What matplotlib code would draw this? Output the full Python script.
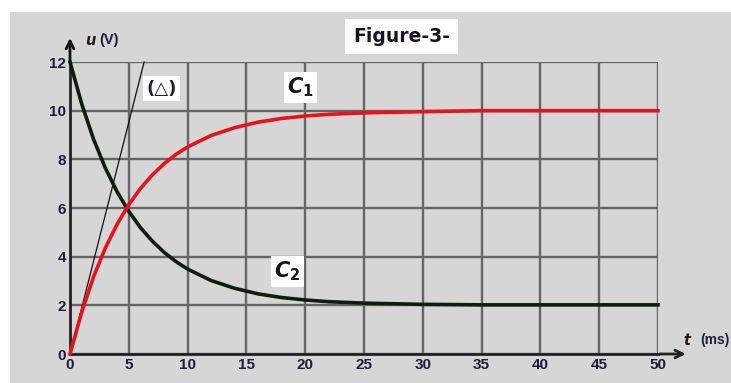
import matplotlib.pyplot as plt
from matplotlib.patches import Rectangle

plt.rcParams["mathtext.fontset"] = "custom"
plt.rcParams["mathtext.it"] = "DejaVu Sans:italic:bold"
plt.rcParams["mathtext.rm"] = "DejaVu Sans:bold"

# time axis (ms) and voltages (V)
t_ms = [0, 1, 2, 3, 4, 5, 6, 7, 8, 9, 10, 12, 14, 16, 18, 20, 22, 25, 30, 35, 40, 45, 50]
u_c1 = [0, 1.73, 3.17, 4.35, 5.33, 6.14, 6.81, 7.36, 7.82, 8.20, 8.51, 8.98, 9.30,
        9.53, 9.68, 9.78, 9.85, 9.91, 9.96, 10.0, 10.0, 10.0, 10.0]
u_c2 = [12, 10.27, 8.83, 7.65, 6.67, 5.86, 5.19, 4.64, 4.18, 3.80, 3.49, 3.02, 2.70,
        2.47, 2.32, 2.22, 2.15, 2.09, 2.04, 2.02, 2.02, 2.02, 2.02]

# tangent to C1 at the origin
tangent_t = [0, 6.3]
tangent_u = [0, 12]

x_ticks = [0, 5, 10, 15, 20, 25, 30, 35, 40, 45, 50]
y_ticks = [0, 2, 4, 6, 8, 10, 12]

BG = "#d6d6d6"
GRID = "#666666"
TICK_COLOR = "#1e1e3c"

W, H = 731, 383
fig = plt.figure(figsize=(W / 100, H / 100), dpi=100)
fig.patch.set_facecolor("white")
fig.patches.append(Rectangle((10 / W, 0), 1, (H - 12) / H, transform=fig.transFigure,
                             facecolor=BG, edgecolor="none", zorder=-10))

ax = fig.add_axes([70 / W, 29 / H, 588 / W, 292 / H])
ax.set_facecolor(BG)
ax.set_xlim(0, 50)
ax.set_ylim(0, 12)
ax.set_xticks(x_ticks)
ax.set_yticks(y_ticks)
ax.grid(True, color=GRID, linewidth=1.7)
for side in ["top", "right"]:
    ax.spines[side].set_visible(False)
for side in ["left", "bottom"]:
    ax.spines[side].set_linewidth(2)
    ax.spines[side].set_color("#222222")
ax.tick_params(length=0, pad=3, labelcolor=TICK_COLOR)
for lab in ax.get_xticklabels() + ax.get_yticklabels():
    lab.set_fontweight("bold")
    lab.set_fontsize(11)
    lab.set_fontfamily("Liberation Sans")

ax.plot(tangent_t, tangent_u, color="#111111", linewidth=0.9, zorder=3, clip_on=False)
ax.plot(t_ms, u_c2, color="#0c1f0c", linewidth=2.6, zorder=4, clip_on=False)
ax.plot(t_ms, u_c1, color="#e8131a", linewidth=2.6, zorder=5, clip_on=False)

# axis arrows
ax.annotate("", xy=(0, 13.1), xytext=(0, 11.9), xycoords="data",
            arrowprops=dict(arrowstyle="->", color="#111111", lw=2, mutation_scale=14),
            annotation_clip=False)
ax.annotate("", xy=(52.6, 0), xytext=(49.9, 0), xycoords="data",
            arrowprops=dict(arrowstyle="->", color="#222222", lw=2, mutation_scale=14),
            annotation_clip=False)

# axis names
ax.text(1.25, 12.9, r"$u$", fontsize=10.5, color="#2a1a10", va="center", ha="left")
ax.text(2.45, 12.9, "(V)", fontsize=10.5, fontweight="bold", color="#1e1e3c",
        va="center", ha="left", family="Liberation Sans")
ax.text(52.1, 0.57, r"$t$", fontsize=10.5, color="#2a1a10", va="center", ha="left")
ax.text(53.6, 0.57, "(ms)", fontsize=10, fontweight="bold", color="#1e1e3c",
        va="center", ha="left", family="Liberation Sans")

box = dict(facecolor="white", edgecolor="none", pad=2.5)
ax.text(28.2, 13.05, "Figure-3-", fontsize=13.5, fontweight="bold", color="#1a1020",
        ha="center", va="center", family="DejaVu Sans",
        bbox=dict(facecolor="white", edgecolor="none", pad=6))
ax.text(7.8, 10.9, "(△)", fontsize=13, fontweight="bold", color="#1e1e3c",
        ha="center", va="center", bbox=box)
ax.text(19.6, 10.95, r"$C_{\mathit{1}}$", fontsize=15, color="#141414",
        ha="center", va="center", bbox=box)
ax.text(18.5, 3.4, r"$C_{\mathit{2}}$", fontsize=15, color="#141414",
        ha="center", va="center", bbox=box)

fig.savefig("out.png", dpi=100, facecolor=fig.get_facecolor())
